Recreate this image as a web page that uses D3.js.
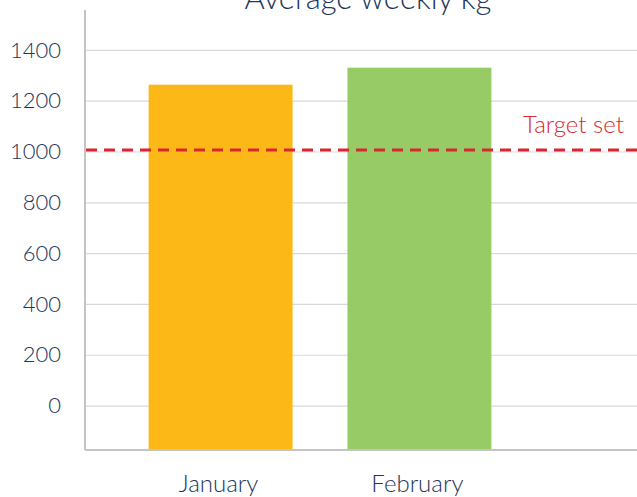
<!DOCTYPE html>
<html>
<head>
<meta charset="utf-8">
<script src="https://cdn.jsdelivr.net/npm/d3@7"></script>
<style>
  body { margin: 0; background: #fff; }
  svg { display: block; font-family: Lato, "Open Sans", sans-serif; font-weight: 300; }
</style>
</head>
<body>
<div id="chart"></div>
<script>
// chart data
var months = ["January", "February"];
var kgValues = [1265, 1332];
var barColors = ["#FBB817", "#96CB65"];
var yTicks = [0, 200, 400, 600, 800, 1000, 1200, 1400];
var target = 1000;
var title = "Average weekly kg";

var width = 637, height = 497;
var plotLeft = 85, plotRight = 637, plotTop = 10, plotBottom = 450;

var svg = d3.select("#chart").append("svg")
    .attr("width", width)
    .attr("height", height);

// y scale - chart floor sits a bit below zero
var y = d3.scaleLinear()
    .domain([-173, 1559])
    .range([plotBottom, plotTop]);

// bars sit in the left part of the plot
var x = d3.scaleBand()
    .domain(months)
    .range([plotLeft, 555])
    .paddingInner(0.276)
    .paddingOuter(0.32)
    .align(0.5);

// gridlines
svg.append("g").selectAll("line")
    .data(yTicks)
    .enter().append("line")
    .attr("x1", plotLeft)
    .attr("x2", plotRight)
    .attr("y1", function (d) { return y(d); })
    .attr("y2", function (d) { return y(d); })
    .attr("stroke", "#d9d9d9")
    .attr("stroke-width", 1.2);

// tick labels via axis
var yAxis = d3.axisLeft(y)
    .tickValues(yTicks)
    .tickSize(0)
    .tickPadding(24)
    .tickFormat(d3.format("d"));

var gy = svg.append("g")
    .attr("transform", "translate(" + plotLeft + ",0)")
    .call(yAxis);
gy.select(".domain").remove();
gy.selectAll("text")
    .attr("fill", "#22355b")
    .attr("dy", "0.3em")
    .style("font-size", "22px")
    .style("font-family", "Lato, sans-serif")
    .style("font-weight", 300);

// bars from the floor
svg.append("g").selectAll("rect")
    .data(kgValues)
    .enter().append("rect")
    .attr("x", function (d, i) { return x(months[i]); })
    .attr("width", x.bandwidth())
    .attr("y", function (d) { return y(d); })
    .attr("height", function (d) { return y.range()[0] - y(d); })
    .attr("fill", function (d, i) { return barColors[i]; });

// axis lines
svg.append("line")
    .attr("x1", plotLeft).attr("x2", plotLeft)
    .attr("y1", plotTop).attr("y2", plotBottom)
    .attr("stroke", "#c4c4c4").attr("stroke-width", 2);
svg.append("line")
    .attr("x1", plotLeft).attr("x2", plotRight)
    .attr("y1", plotBottom).attr("y2", plotBottom)
    .attr("stroke", "#c4c4c4").attr("stroke-width", 2);

// target line
svg.append("line")
    .attr("x1", plotLeft + 1)
    .attr("x2", plotRight)
    .attr("y1", y(target) - 2)
    .attr("y2", y(target) - 2)
    .attr("stroke", "#d7282f")
    .attr("stroke-width", 3)
    .attr("stroke-dasharray", "11,7");

svg.append("text")
    .attr("x", 624)
    .attr("y", y(target) - 19)
    .attr("text-anchor", "end")
    .attr("fill", "#d7282f")
    .style("font-size", "24px")
    .text("Target set");

// month labels
svg.append("g").selectAll("text")
    .data(months)
    .enter().append("text")
    .attr("x", function (d) { return x(d) + x.bandwidth() / 2 - 2; })
    .attr("y", 492)
    .attr("text-anchor", "middle")
    .attr("fill", "#22355b")
    .style("font-size", "24px")
    .text(function (d) { return d; });

// title, cut off at the top like the original
svg.append("text")
    .attr("x", 368)
    .attr("y", 9)
    .attr("text-anchor", "middle")
    .attr("fill", "#22355b")
    .style("font-size", "31px")
    .text(title);
</script>
</body>
</html>
